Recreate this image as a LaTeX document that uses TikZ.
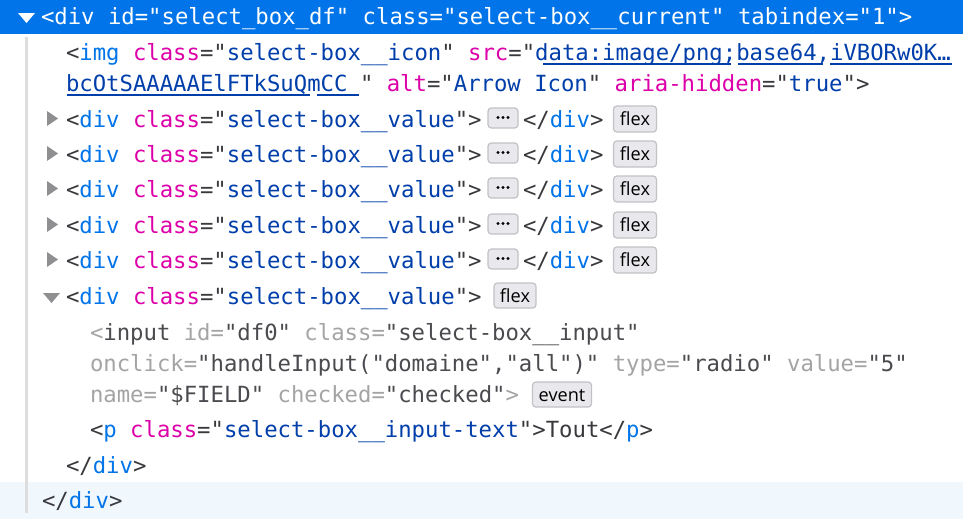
\documentclass[tikz,border=0pt]{standalone}
\usepackage{fontspec}
\newfontfamily\codefont{DejaVu Sans Mono}
\newfontfamily\badgefont{Open Sans}
\definecolor{selbg}{HTML}{0074E8}
\definecolor{tagc}{HTML}{0074E8}
\definecolor{attrn}{HTML}{DD00A9}
\definecolor{attrv}{HTML}{003EAA}
\definecolor{punc}{HTML}{38383D}
\definecolor{grayl}{HTML}{A4A4A4}
\definecolor{grayd}{HTML}{4A4A4F}
\definecolor{lastbg}{HTML}{F0F8FE}
\definecolor{guide}{HTML}{DDDDDD}
\definecolor{trig}{HTML}{8F8F92}
\definecolor{badgef}{HTML}{E9E9ED}
\definecolor{badgeb}{HTML}{C2C2C6}
\newcommand\xtg[1]{\textcolor{tagc}{#1}}
\newcommand\xan[1]{\textcolor{attrn}{#1}}
\newcommand\xav[1]{\textcolor{attrv}{#1}}
\newcommand\xpu[1]{\textcolor{punc}{#1}}
\newcommand\xgl[1]{\textcolor{grayl}{#1}}
\newcommand\xgd[1]{\textcolor{grayd}{#1}}
\begin{document}
\begin{tikzpicture}[x=0.75pt,y=-0.75pt,
  code/.style={anchor=base west,inner sep=0pt,outer sep=0pt,font=\codefont\fontsize{16.7}{20}\selectfont,text=punc},
  badge/.style={draw=badgeb,fill=badgef,line width=0.9pt,rounded corners=2.5pt,inner sep=0pt,
    font=\badgefont\fontsize{13.6}{15}\selectfont,text=black,text height=10.2pt,text depth=0pt},
  uline/.style={draw=attrv,line width=1pt},
  tri/.style={fill=trig}]
\useasboundingbox (0,0) rectangle (963,519);
\fill[white] (0,0) rectangle (963,519);
\fill[selbg] (0,0) rectangle (963,34);
\fill[lastbg] (0,482) rectangle (963,519);
\draw[guide,line width=1.9pt] (26.5,37) -- (26.5,513);
% row 1
\fill[white] (18,13) -- (35,13) -- (26.5,23) -- cycle;
\node[code,text=white] (r1) at (41,24) {<div id="select\_box\_df" class="select-box\_\_current" tabindex="1">};
% img rows
\node[code] (r2) at (66,60) {\xpu{<}\xtg{img} \xan{class}\xpu{="}\xav{select-box\_\_icon}\xpu{"} \xan{src}\xpu{="}\xav{data:image/png;base64,iVBORw0K…}};
\draw[uline] (543,64) -- (731,64) (738,64) -- (823,64) (830,64) -- (952,64);
\node[code] (r3a) at (66,91) {\xav{bcOtSAAAAAElFTkSuQmCC}};
\draw[uline] (67,95) -- (310,95) (317,95) -- (359,95);
\node[code] (r3b) at (360,91) {\xpu{"} \xan{alt}\xpu{="}\xav{Arrow Icon}\xpu{"} \xan{aria-hidden}\xpu{="}\xav{true}\xpu{">}};
% collapsed rows
\foreach \b/\i in {127/1,162/2,197/3,233/4,268/5}{
  \fill[tri] (47,\b-16) -- (47,\b-1) -- (58,\b-8.5) -- cycle;
  \node[code] (v\i) at (66,\b) {\xpu{<}\xtg{div} \xan{class}\xpu{="}\xav{select-box\_\_value}\xpu{">}};
  \node[badge,minimum width=22.5pt,minimum height=15pt] (m\i) at (503,\b-9) {};
  \fill[black] (m\i.center) ++(-5,-0.5) circle[radius=1.15pt] ++(5,0) circle[radius=1.15pt] ++(5,0) circle[radius=1.15pt];
  \node[code] (c\i) at (523,\b) {\xpu{</}\xtg{div}\xpu{>}};
  \node[badge,minimum width=32.25pt,minimum height=19.5pt] (f\i) at (635,\b-8) {flex};
}
% expanded row
\fill[tri] (43,293) -- (60,293) -- (51.5,303) -- cycle;
\node[code] (v6) at (66,304) {\xpu{<}\xtg{div} \xan{class}\xpu{="}\xav{select-box\_\_value}\xpu{">}};
\node[badge,minimum width=31.5pt,minimum height=18.75pt] (f6) at (515,295.5) {flex};
% input
\node[code] (i1) at (90,340) {\xgl{<}\xgd{input} \xgl{id=}\xgd{"df0"} \xgl{class=}\xgd{"select-box\_\_input"}};
\node[code] (i2) at (90,371) {\xgl{onclick=}\xgd{"handleInput("domaine","all")"} \xgl{type=}\xgd{"radio"} \xgl{value=}\xgd{"5"}};
\node[code] (i3) at (90,402) {\xgl{name=}\xgd{"\$FIELD"} \xgl{checked=}\xgd{"checked"}\xgl{>}};
\node[badge,minimum width=44.25pt,minimum height=18.75pt] (ev) at (562,394.5) {event};
\node[code] (p1) at (90,437) {\xpu{<}\xtg{p} \xan{class}\xpu{="}\xav{select-box\_\_input-text}\xpu{">}Tout\xpu{</}\xtg{p}\xpu{>}};
\node[code] (e1) at (66,473) {\xpu{</}\xtg{div}\xpu{>}};
\node[code] (e0) at (42,508) {\xpu{</}\xtg{div}\xpu{>}};
\end{tikzpicture}
\end{document}
